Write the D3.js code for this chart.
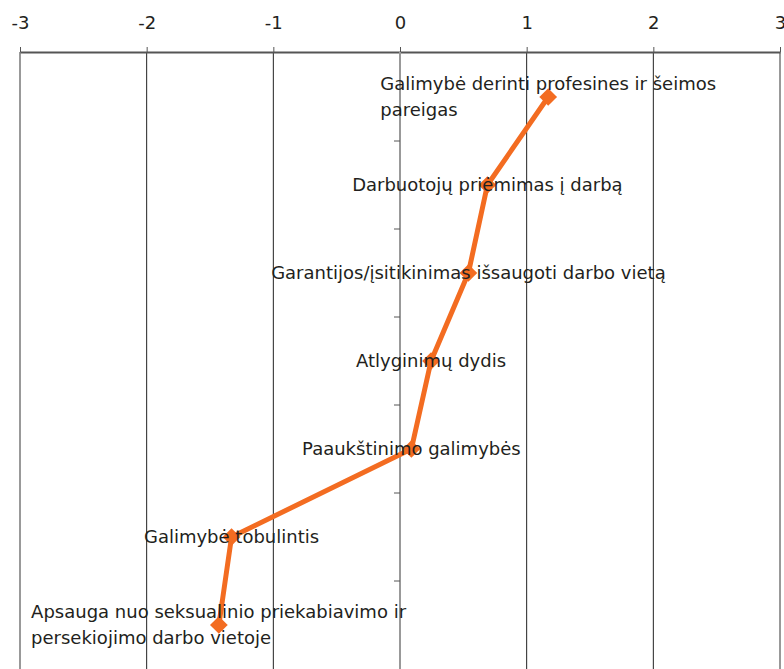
<!DOCTYPE html>
<html>
<head>
<meta charset="utf-8">
<script src="https://cdn.jsdelivr.net/npm/d3@7"></script>
<style>
  html, body { margin: 0; padding: 0; background: #fff; }
  svg { display: block; }
  text { font-family: "DejaVu Sans", Verdana, sans-serif; fill: #231f20; }
</style>
</head>
<body>
<svg id="chart"></svg>
<script>
// categories top to bottom, each label split into its lines
const categories = [
  "Galimybė derinti profesines ir šeimos pareigas",
  "Darbuotojų priėmimas į darbą",
  "Garantijos/įsitikinimas išsaugoti darbo vietą",
  "Atlyginimų dydis",
  "Paaukštinimo galimybės",
  "Galimybė tobulintis",
  "Apsauga nuo seksualinio priekabiavimo ir persekiojimo darbo vietoje"
]
const labelLines = [
  ["Galimybė derinti profesines ir šeimos", "pareigas"],
  ["Darbuotojų priėmimas į darbą"],
  ["Garantijos/įsitikinimas išsaugoti darbo vietą"],
  ["Atlyginimų dydis"],
  ["Paaukštinimo galimybės"],
  ["Galimybė tobulintis"],
  ["Apsauga nuo seksualinio priekabiavimo ir", "persekiojimo darbo vietoje"]
]
const values = [1.17, 0.69, 0.54, 0.245, 0.09, -1.33, -1.43]
const xTicks = [-3, -2, -1, 0, 1, 2, 3]

const W = 784, H = 669
const svg = d3.select('#chart').attr('width', W).attr('height', H)

const x = d3.scaleLinear().domain([-3, 3]).range([20, 780])
const y = d3.scaleBand().domain(categories).range([53, 669]).padding(0)

const orange = '#f36c21'
const fs = 18

// vertical gridlines
svg.append('g')
  .selectAll('line')
  .data(xTicks)
  .join('line')
    .attr('x1', d => x(d)).attr('x2', d => x(d))
    .attr('y1', 52).attr('y2', H)
    .attr('stroke', d => (d === -3 || d === 3) ? '#999' : '#222')
    .attr('stroke-width', d => (d === -3 || d === 3) ? 2 : 1)

// top value axis
const xAxis = d3.axisTop(x).tickValues(xTicks).tickSize(5).tickSizeOuter(0).tickFormat(d => String(d))
const gx = svg.append('g')
  .attr('transform', 'translate(0,52)')
  .call(xAxis)
gx.select('.domain').attr('stroke', '#555').attr('stroke-width', 2)
gx.selectAll('.tick line').attr('stroke', '#555')
gx.selectAll('.tick text')
  .attr('y', -23)
  .attr('font-size', fs)
  .style('font-family', '"DejaVu Sans", Verdana, sans-serif')
  .attr('fill', '#231f20')

// category axis at zero
const gy = svg.append('g')
gy.append('line')
  .attr('x1', x(0)).attr('x2', x(0))
  .attr('y1', 52).attr('y2', H)
  .attr('stroke', '#999').attr('stroke-width', 2)
gy.selectAll('line.tick')
  .data(categories.slice(1))
  .join('line')
    .attr('class', 'tick')
    .attr('x1', x(0) - 6).attr('x2', x(0))
    .attr('y1', d => y(d)).attr('y2', d => y(d))
    .attr('stroke', '#555')

const pts = categories.map((c, i) => ({ cat: c, value: values[i], lines: labelLines[i] }))

// line
const line = d3.line()
  .x(d => x(d.value))
  .y(d => y(d.cat) + y.bandwidth() / 2)
svg.append('path')
  .datum(pts)
  .attr('d', line)
  .attr('fill', 'none')
  .attr('stroke', orange)
  .attr('stroke-width', 5)
  .attr('stroke-linejoin', 'round')

// diamond markers
svg.append('g')
  .selectAll('path')
  .data(pts)
  .join('path')
    .attr('transform', d => `translate(${x(d.value)},${y(d.cat) + y.bandwidth() / 2})`)
    .attr('d', d3.symbol(d3.symbolDiamond2, 200)())
    .attr('fill', orange)

// data labels (centered block, left aligned lines)
const lineH = 26
const labels = svg.append('g')
  .selectAll('text')
  .data(pts)
  .join('text')
    .attr('font-size', fs)
    .attr('text-anchor', 'start')

labels.each(function(d) {
  const t = d3.select(this)
  const cy = y(d.cat) + y.bandwidth() / 2
  const n = d.lines.length
  d.lines.forEach((l, k) => {
    t.append('tspan')
      .attr('x', 0)
      .attr('y', cy + (k - (n - 1) / 2) * lineH)
      .attr('dy', '0.35em')
      .text(l)
  })
  const w = this.getBBox().width
  t.selectAll('tspan').attr('x', x(d.value) - w / 2)
})
</script>
</body>
</html>
